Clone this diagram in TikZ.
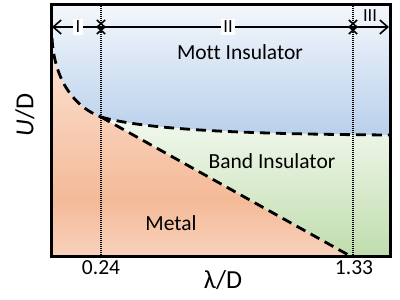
\documentclass[tikz,border=0pt]{standalone}
\usepackage{fontspec}
\setmainfont[Ligatures=NoCommon]{Carlito}
\usetikzlibrary{arrows.meta}
\definecolor{mottup}{HTML}{F4F7FC}
\definecolor{mottlo}{HTML}{B8D0EB}
\definecolor{metallt}{HTML}{FCE4D6}
\definecolor{metaldk}{HTML}{F4BA98}
\definecolor{metalbt}{HTML}{F8D2BC}
\definecolor{bandup}{HTML}{F2F8EE}
\definecolor{bandlo}{HTML}{C0DDAD}

\begin{document}
\begin{tikzpicture}[x=1pt,y=1pt,
  barb/.tip={Straight Barb[length=8pt,width=14pt,line width=1.6pt]},
  phase/.style={line width=2.8pt,dash pattern=on 10pt off 6pt},
  guide/.style={line width=1.1pt,dash pattern=on 1pt off 1pt},
  span/.style={line width=1.4pt,barb-barb},
  regionlbl/.style={font=\fontsize{21.5}{24}\selectfont},
  romanlbl/.style={font=\fontsize{18.5}{21}\selectfont},
  ticklbl/.style={font=\fontsize{21.5}{24}\selectfont},
  axislbl/.style={font=\fontsize{26}{30}\selectfont}]
  \useasboundingbox (0,0) rectangle (400,300);
  % phase regions
  \shade[top color=mottup,bottom color=mottlo] (51,295) -- (390,295) -- (390,165)
    .. controls (220,166) and (140,172) .. (101,183)
    .. controls (70,195) and (54,225) .. (52,262) -- (51,262) -- cycle;
  \begin{scope}
    \clip (51,43) -- (352,43) -- (101,183) .. controls (70,195) and (54,225) .. (52,262) -- (51,262) -- cycle;
    \shade[top color=metaldk,bottom color=metalbt] (51,43) rectangle (390,100);
    \shade[top color=metallt,bottom color=metaldk] (51,99) rectangle (390,262);
  \end{scope}
  \shade[top color=bandup,bottom color=bandlo] (101,183)
    .. controls (140,172) and (220,166) .. (390,165) -- (390,43) -- (352,43) -- cycle;
  % guides at the critical values
  \draw[guide] (101,43) -- (101,295);
  \draw[guide] (353,43) -- (353,295);
  % phase boundaries
  \draw[line width=2.2pt] (51,262) -- (52,262);
  \draw[phase] (52,262) .. controls (54,225) and (70,195) .. (101,183);
  \draw[phase] (101,183) .. controls (140,172) and (220,166) .. (390,165);
  \draw[phase] (101,183) -- (352,43);
  \draw[line width=3pt] (51,43) rectangle (390,295);
  % regimes
  \draw[span] (52,273) -- (106,273);
  \draw[span] (96,273) -- (358,273);
  \draw[span] (348,273) -- (389,273);
  \node[romanlbl,fill=white,inner sep=2.5pt] (regI) at (78,273) {I};
  \node[romanlbl,fill=white,inner sep=2.5pt] (regII) at (228,273) {II};
  \node[romanlbl] (regIII) at (370,284) {III};
  % labels
  \node[regionlbl] (mott) at (240,248) {Mott Insulator};
  \node[regionlbl] (band) at (272,139) {Band Insulator};
  \node[regionlbl] (metal) at (171,77) {Metal};
  \node[ticklbl] (lo) at (101,32) {0.24};
  \node[ticklbl] (hi) at (354,32) {1.33};
  \node[axislbl] (xlab) at (223,20) {λ/D};
  \node[axislbl,rotate=90] (ylab) at (25,185) {\textit{U}/D};
\end{tikzpicture}
\end{document}
